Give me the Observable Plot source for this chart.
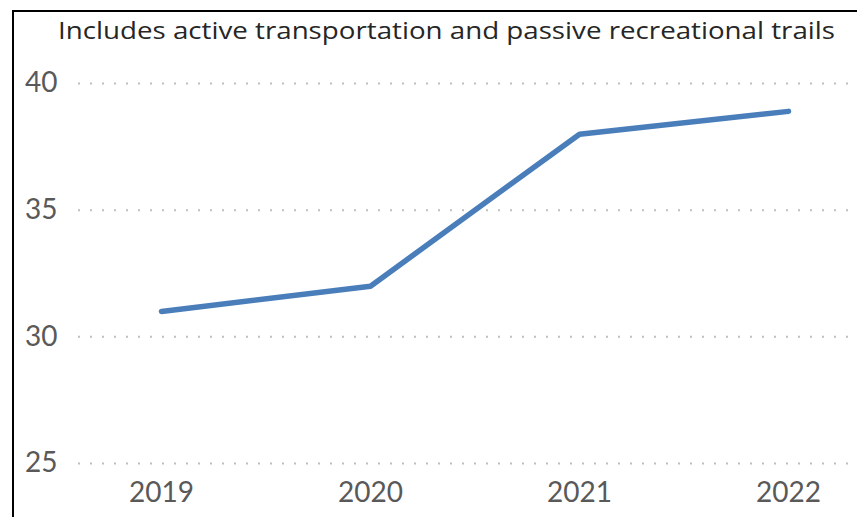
<!DOCTYPE html>
<html>
<head>
<meta charset="utf-8">
<script src="https://cdn.jsdelivr.net/npm/d3@7"></script>
<script src="https://cdn.jsdelivr.net/npm/@observablehq/plot@0.6"></script>
<style>
  html, body { margin: 0; padding: 0; background: #fff; }
  #wrap { position: relative; width: 857px; height: 517px; overflow: hidden; }
  #frame { position: absolute; left: 12px; top: 10px; width: 900px; height: 600px;
           border-left: 2px solid #000; border-top: 2px solid #000; pointer-events: none; }
  #sub { position: absolute; left: 0; top: 0; }
  #chart { position: absolute; left: 0; top: 0; }
</style>
</head>
<body>
<div id="wrap">
  <div id="chart"></div>
  <svg id="sub" width="857" height="60">
    <text x="58" y="39" textLength="777" lengthAdjust="spacingAndGlyphs"
          font-family="'Open Sans', Lato, sans-serif" font-size="23" fill="#262626">Includes active transportation and passive recreational trails</text>
  </svg>
  <div id="frame"></div>
</div>
<script>
const years = ["2019", "2020", "2021", "2022"];
const values = [31, 32, 38, 38.9];
const yTicks = [25, 30, 35, 40];

const data = years.map((y, i) => ({year: y, value: values[i]}));

const chart = Plot.plot({
  width: 857,
  height: 517,
  marginLeft: 78,
  marginRight: 9,
  marginTop: 83,
  marginBottom: 54,
  style: {fontFamily: "Lato, 'Open Sans', sans-serif", fontSize: "28px", color: "#595959", background: "transparent"},
  x: {type: "point", domain: years, range: [161, 788], padding: 0, label: null},
  y: {domain: [25, 40], label: null},
  marks: [
    Plot.gridY(yTicks, {stroke: "#bfbfbf", strokeOpacity: 1, strokeWidth: 2, strokeDasharray: "2,10"}),
    Plot.axisY({ticks: yTicks, tickSize: 0, tickPadding: 21, label: null, fontSize: 28}),
    Plot.axisX({tickSize: 0, tickPadding: 19, label: null, fontSize: 28}),
    Plot.line(data, {x: "year", y: "value", stroke: "#4a7ebb", strokeWidth: 5.5, strokeLinecap: "round", strokeLinejoin: "round"})
  ]
});
document.getElementById("chart").appendChild(chart);
</script>
</body>
</html>
